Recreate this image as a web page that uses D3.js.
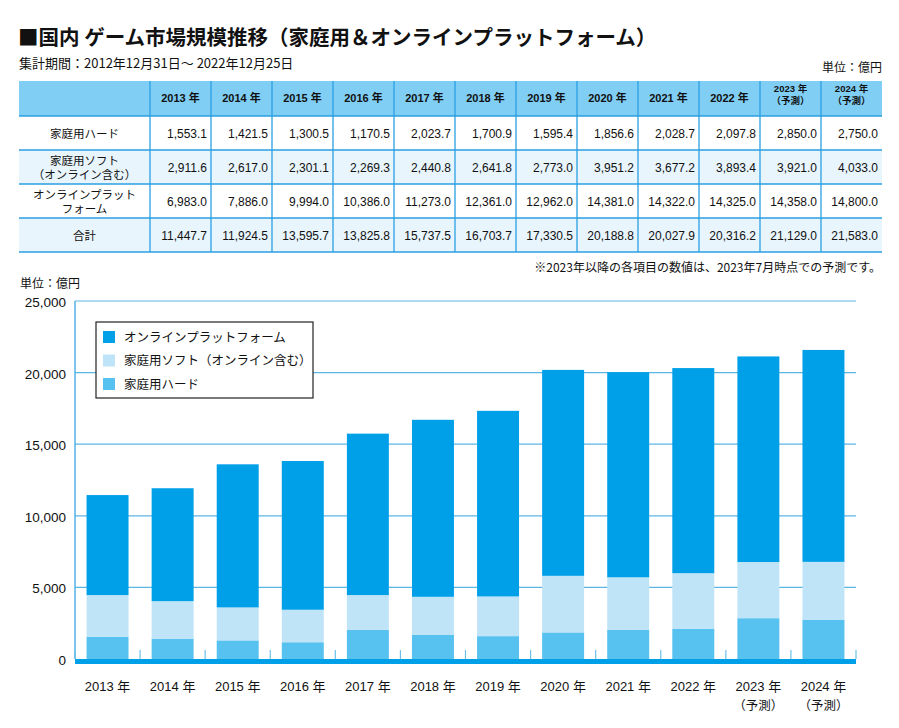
<!DOCTYPE html>
<html><head><meta charset="utf-8">
<script src="https://cdn.jsdelivr.net/npm/d3@7"></script>
<style>
body{margin:0;background:#fff;}
text{font-family:"Liberation Sans","Noto Sans CJK JP",sans-serif;fill:#111;}
text.jp{font-family:"Noto Sans CJK JP",sans-serif;}
</style></head>
<body><svg id="c" width="899" height="728"></svg>
<script>
const years = ["2013","2014","2015","2016","2017","2018","2019","2020","2021","2022","2023","2024"];
const forecast = [false,false,false,false,false,false,false,false,false,false,true,true];
const hard = [1553.1,1421.5,1300.5,1170.5,2023.7,1700.9,1595.4,1856.6,2028.7,2097.8,2850.0,2750.0];
const soft = [2911.6,2617.0,2301.1,2269.3,2440.8,2641.8,2773.0,3951.2,3677.2,3893.4,3921.0,4033.0];
const online = [6983.0,7886.0,9994.0,10386.0,11273.0,12361.0,12962.0,14381.0,14322.0,14325.0,14358.0,14800.0];
const total = [11447.7,11924.5,13595.7,13825.8,15737.5,16703.7,17330.5,20188.8,20027.9,20316.2,21129.0,21583.0];
const yTicks = [0,5000,10000,15000,20000,25000];
const seriesNames = ["家庭用ハード","家庭用ソフト（オンライン含む）","オンラインプラットフォーム"];
const rowLabels = [["家庭用ハード"],["家庭用ソフト","（オンライン含む）"],["オンラインプラット","フォーム"],["合計"]];
const colors = {hard:"#57c1ef", soft:"#bfe4f8", online:"#00a0e9"};

const svg = d3.select("#c");
const fmt = d3.format(",.1f");

// Title
svg.append("text").attr("class","jp").attr("x",18).attr("y",45).attr("font-size",20.5).attr("font-weight","bold")
  .text("■国内 ゲーム市場規模推移（家庭用＆オンラインプラットフォーム）");
svg.append("text").attr("class","jp").attr("x",19).attr("y",68).attr("font-size",13)
  .text("集計期間：2012年12月31日～ 2022年12月25日");
svg.append("text").attr("class","jp").attr("x",882).attr("y",72).attr("font-size",12).attr("text-anchor","end").text("単位：億円");

// Table
const tX0 = 19, firstW = 131, tTop = 81, headH = 35, rowH = 34;
const colX = d3.scaleBand().domain(years).range([tX0+firstW, 882]);
const borderC = "#2a9fe2";
const tbl = svg.append("g");
tbl.append("rect").attr("x",tX0).attr("y",tTop).attr("width",882-tX0).attr("height",headH).attr("fill","#80cef4");
const tableRows = [hard, soft, online, total];
tableRows.forEach((vals,i)=>{
  tbl.append("rect").attr("x",tX0).attr("y",tTop+headH+i*rowH).attr("width",882-tX0).attr("height",rowH)
    .attr("fill", i%2===1 ? "#e8f5fd" : "#ffffff");
});
// header text
years.forEach((y,i)=>{
  const cx = colX(y)+colX.bandwidth()/2;
  if(forecast[i]){
    tbl.append("text").attr("x",cx).attr("y",92).attr("font-size",9.5).attr("text-anchor","middle").attr("font-weight","bold").text(y+" 年");
    tbl.append("text").attr("x",cx).attr("y",104).attr("font-size",9.5).attr("text-anchor","middle").attr("font-weight","bold").text("（予測）");
  } else {
    tbl.append("text").attr("x",cx).attr("y",102).attr("font-size",11).attr("text-anchor","middle").attr("font-weight","bold").text(y+" 年");
  }
});
// rows
tableRows.forEach((vals,i)=>{
  const yc = tTop+headH+i*rowH+rowH/2;
  const lbl = rowLabels[i];
  lbl.forEach((l,j)=>{
    tbl.append("text").attr("x",tX0+firstW/2).attr("y", yc + 4.5 + (j-(lbl.length-1)/2)*14)
      .attr("font-size",11.5).attr("text-anchor","middle").text(l);
  });
  vals.forEach((v,k)=>{
    tbl.append("text").attr("x",colX(years[k])+colX.bandwidth()-4).attr("y",yc+4.5)
      .attr("font-size",12).attr("text-anchor","end").text(fmt(v));
  });
});
// borders
for(let i=0;i<=4;i++){
  tbl.append("line").attr("x1",tX0).attr("x2",882).attr("y1",tTop+headH+i*rowH).attr("y2",tTop+headH+i*rowH)
    .attr("stroke",borderC).attr("stroke-width",1.3);
}
[tX0+firstW, ...years.slice(1).map(y=>colX(y))].forEach(x=>{
  tbl.append("line").attr("x1",x).attr("x2",x).attr("y1",tTop).attr("y2",tTop+headH+4*rowH)
    .attr("stroke",borderC).attr("stroke-width",1.3);
});
svg.append("text").attr("class","jp").attr("x",881).attr("y",272).attr("font-size",12).attr("text-anchor","end")
  .text("※2023年以降の各項目の数値は、2023年7月時点での予測です。");

// Chart
svg.append("text").attr("class","jp").attr("x",20).attr("y",288).attr("font-size",12).text("単位：億円");
const L = 75, R = 856, B = 659, T = 301;
const x = d3.scaleBand().domain(years).range([L,R]).paddingInner(0.355).paddingOuter(0.1775);
const y = d3.scaleLinear().domain([0,25000]).range([B,T]);
const step = x.step();

// gridlines
svg.append("g").selectAll("line").data(yTicks.filter(d=>d>0)).join("line")
  .attr("x1",L).attr("x2",R).attr("y1",d=>y(d)).attr("y2",d=>y(d))
  .attr("stroke","#5cb6e4").attr("stroke-width",1.2);
// left axis line
svg.append("line").attr("x1",L).attr("x2",L).attr("y1",T).attr("y2",B).attr("stroke","#3aa8e2").attr("stroke-width",1.3);
// y labels
svg.append("g").selectAll("text").data(yTicks).join("text")
  .attr("x",66).attr("y",d=>y(d)+6).attr("font-size",13.5).attr("text-anchor","end")
  .text(d=>d3.format(",")(d));

// stacks
const data = years.map((yr,i)=>({year:yr, hard:hard[i], soft:soft[i], online:online[i]}));
const stack = d3.stack().keys(["hard","soft","online"])(data);
svg.append("g").selectAll("g").data(stack).join("g").attr("fill",d=>colors[d.key])
  .selectAll("rect").data(d=>d).join("rect")
  .attr("x",d=>x(d.data.year)).attr("width",x.bandwidth())
  .attr("y",d=>y(d[1])).attr("height",d=>y(d[0])-y(d[1]));

// bottom ticks at band boundaries
svg.append("g").selectAll("line").data(d3.range(13)).join("line")
  .attr("x1",i=>L+i*step).attr("x2",i=>L+i*step).attr("y1",650).attr("y2",B)
  .attr("stroke","#6cc0ea").attr("stroke-width",1.2);
// thick baseline
svg.append("rect").attr("x",L).attr("y",B).attr("width",R-L).attr("height",5).attr("fill","#00a0e9");

// x labels
years.forEach((yr,i)=>{
  const cx = x(yr)+x.bandwidth()/2;
  svg.append("text").attr("x",cx).attr("y",691).attr("font-size",13).attr("text-anchor","middle").text(yr+" 年");
  if(forecast[i]) svg.append("text").attr("class","jp").attr("x",cx).attr("y",710).attr("font-size",12.5).attr("text-anchor","middle").text("（予測）");
});

// legend
const lg = svg.append("g");
lg.append("rect").attr("x",96).attr("y",322).attr("width",217).attr("height",76).attr("fill","#fff").attr("stroke","#222").attr("stroke-width",1.2);
const legendItems = [{k:"online",n:seriesNames[2]},{k:"soft",n:seriesNames[1]},{k:"hard",n:seriesNames[0]}];
legendItems.forEach((d,i)=>{
  const cy = 337 + i*23.5;
  lg.append("rect").attr("x",103).attr("y",cy-6).attr("width",12).attr("height",12).attr("fill",colors[d.k]);
  lg.append("text").attr("class","jp").attr("x",124).attr("y",cy+4.5).attr("font-size",12.5).text(d.n);
});
</script></body></html>
